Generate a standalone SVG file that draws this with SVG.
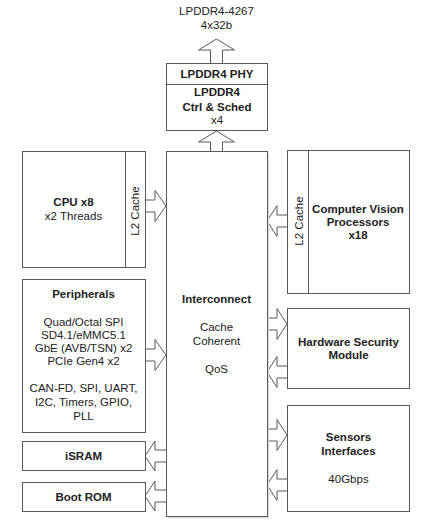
<svg xmlns="http://www.w3.org/2000/svg" width="421" height="520" viewBox="0 0 421 520">
<style>
.box{fill:#fff;stroke:#595959;stroke-width:1}
.arr{fill:#fff;stroke:#595959;stroke-width:1;stroke-linejoin:miter}
text{font-family:"Liberation Sans",Arial,sans-serif;font-size:11.5px;fill:#222;text-anchor:middle}
.b{font-weight:bold}
</style>
<rect width="421" height="520" fill="#fff"/>
<g id="connectors">
<path class="arr" d="M210.5,63 V50 H198.5 L216.5,39 L234.5,50 H222.5 V63"/>
<path class="arr" d="M210.5,152 V142 H198.5 L216.5,131 L234.5,142 H222.5 V152"/>
<path class="arr" d="M145,200 H155 V190.5 L166,206 L155,221.5 V212 H145"/>
<path class="arr" d="M145,349 H155 V339.5 L166,355 L155,370.5 V361 H145"/>
<path class="arr" d="M166,450 H155 V441 L145,456 L155,471 V462 H166"/>
<path class="arr" d="M166,490 H155 V481 L145,496 L155,511 V502 H166"/>
<path class="arr" d="M287,215 H277 V205.5 L267,221 L277,236.5 V227 H287"/>
<path class="arr" d="M267,318 H277 V308.5 L287,324 L277,339.5 V330 H267"/>
<path class="arr" d="M287,366 H277 V356.5 L267,372 L277,387.5 V378 H287"/>
<path class="arr" d="M267,429 H277 V419.5 L287,435 L277,450.5 V441 H267"/>
<path class="arr" d="M287,479 H277 V469.5 L267,485 L277,500.5 V491 H287"/>
</g>
<g id="lpddr-label">
<text x="216.5" y="15">LPDDR4-4267</text>
<text x="216.5" y="29">4x32b</text>
</g>
<g id="lpddr-phy">
<rect class="box" x="166.5" y="63.5" width="101" height="21"/>
<text class="b" x="217" y="77.5">LPDDR4 PHY</text>
</g>
<g id="lpddr-ctrl">
<rect class="box" x="166.5" y="84.5" width="101" height="46"/>
<text class="b" x="217" y="96">LPDDR4</text>
<text class="b" x="217" y="110.5">Ctrl &amp; Sched</text>
<text x="217" y="123.5">x4</text>
</g>
<g id="cpu">
<rect class="box" x="22.5" y="151.5" width="123" height="116"/>
<line class="box" x1="125.5" y1="151.5" x2="125.5" y2="267.5"/>
<text class="b" x="73.5" y="206">CPU x8</text>
<text x="73.5" y="219.5">x2 Threads</text>
<text x="138.5" y="211" transform="rotate(-90 138.5 211)">L2 Cache</text>
</g>
<g id="peripherals">
<rect class="box" x="22.5" y="279.5" width="123" height="153"/>
<text class="b" x="83.5" y="297.5">Peripherals</text>
<text x="83.5" y="326">Quad/Octal SPI</text>
<text x="83.5" y="339">SD4.1/eMMC5.1</text>
<text x="83.5" y="352">GbE (AVB/TSN) x2</text>
<text x="83.5" y="365">PCIe Gen4 x2</text>
<text x="83.5" y="391.5">CAN-FD, SPI, UART,</text>
<text x="83.5" y="405.5">I2C, Timers, GPIO,</text>
<text x="83.5" y="419.5">PLL</text>
</g>
<g id="isram">
<rect class="box" x="22.5" y="441.5" width="123" height="29"/>
<text class="b" x="83.5" y="460">iSRAM</text>
</g>
<g id="bootrom">
<rect class="box" x="22.5" y="482.5" width="123" height="29"/>
<text class="b" x="83.5" y="500.5">Boot ROM</text>
</g>
<g id="interconnect">
<rect x="168" y="153.5" width="101" height="365" fill="#ddd"/>
<rect class="box" x="166.5" y="151.5" width="101" height="365"/>
<text class="b" x="216.5" y="302.5">Interconnect</text>
<text x="216.5" y="331">Cache</text>
<text x="216.5" y="345">Coherent</text>
<text x="216.5" y="372.5">QoS</text>
</g>
<g id="cv">
<rect class="box" x="287.5" y="150.5" width="122" height="143"/>
<line class="box" x1="308.5" y1="150.5" x2="308.5" y2="293.5"/>
<text class="b" x="358" y="212.5">Computer Vision</text>
<text class="b" x="358" y="226">Processors</text>
<text class="b" x="358" y="239">x18</text>
<text x="302.5" y="221" transform="rotate(-90 302.5 221)">L2 Cache</text>
</g>
<g id="hsm">
<rect class="box" x="287.5" y="308.5" width="122" height="80"/>
<text class="b" x="348.5" y="346">Hardware Security</text>
<text class="b" x="348.5" y="359">Module</text>
</g>
<g id="sensors">
<rect class="box" x="287.5" y="405.5" width="122" height="106"/>
<text class="b" x="348.5" y="441">Sensors</text>
<text class="b" x="348.5" y="455">Interfaces</text>
<text x="348.5" y="482.5">40Gbps</text>
</g>
</svg>
